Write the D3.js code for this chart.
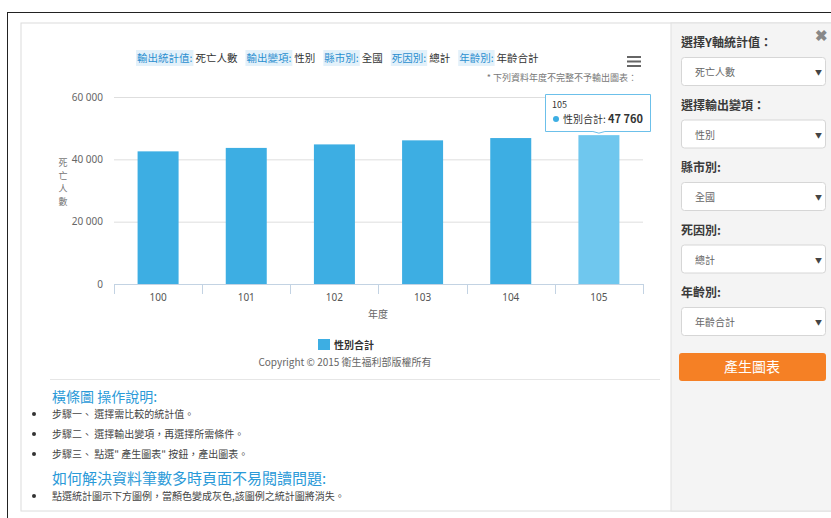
<!DOCTYPE html>
<html>
<head>
<meta charset="utf-8">
<script src="https://d3js.org/d3.v7.min.js"></script>
<style>
  body { margin: 0; background: #fff; }
  svg text { font-family: "Noto Sans CJK TC", "Noto Sans", sans-serif; }
</style>
</head>
<body>
<script>
  // chart data
  const years = ["100", "101", "102", "103", "104", "105"]
  const deaths = [42559, 43665, 44791, 46093, 46829, 47760]
  const yTicks = [0, 20000, 40000, 60000]
  const seriesName = "性別合計"

  // header filters and page text
  const filterKeys = ["輸出統計值:", "輸出變項:", "縣市別:", "死因別:", "年齡別:"]
  const filterVals = ["死亡人數", "性別", "全國", "總計", "年齡合計"]
  const sideLabels = ["選擇Y軸統計值：", "選擇輸出變項：", "縣市別:", "死因別:", "年齡別:"]
  const sideValues = ["死亡人數", "性別", "全國", "總計", "年齡合計"]
  const steps = ["步驟一、 選擇需比較的統計值。", "步驟二、 選擇輸出變項，再選擇所需條件。", "步驟三、 點選\" 產生圖表\" 按鈕，產出圖表。"]

  const W = 831, H = 518
  const svg = d3.select("body").append("svg").attr("width", W).attr("height", H)

  // outer frame + panel
  svg.append("rect").attr("x", 7.5).attr("y", 12.5).attr("width", 840).attr("height", 520)
    .attr("fill", "#fff").attr("stroke", "#222")
  svg.append("rect").attr("x", 21).attr("y", 23).attr("width", 820).attr("height", 488)
    .attr("fill", "#fff").attr("stroke", "#dcdcdc")
  svg.append("rect").attr("x", 671).attr("y", 23).attr("width", 170).attr("height", 488)
    .attr("fill", "#f4f4f4").attr("stroke", "#e0e0e0")

  // header filter line
  let hx = 137
  const hg = svg.append("g")
  filterKeys.forEach((k, i) => {
    const kt = hg.append("text").attr("x", hx).attr("y", 62).attr("font-size", 10.5)
      .attr("fill", "#2b8fd0").text(k)
    const kw = kt.node().getComputedTextLength()
    hg.insert("rect", "text").attr("x", hx - 1).attr("y", 50).attr("width", kw + 2).attr("height", 16)
      .attr("fill", "#e3f1fa")
    const vt = hg.append("text").attr("x", hx + kw + 3).attr("y", 62).attr("font-size", 10.5)
      .attr("fill", "#333").text(filterVals[i])
    hx += kw + 3 + vt.node().getComputedTextLength() + 9
  })
  // hamburger menu
  ;[56, 60.5, 65].forEach(yy => svg.append("rect").attr("x", 627).attr("y", yy).attr("width", 14)
    .attr("height", 2).attr("fill", "#666"))
  svg.append("text").attr("x", 637).attr("y", 81).attr("text-anchor", "end").attr("font-size", 9)
    .attr("fill", "#777").text("* 下列資料年度不完整不予輸出圖表：")

  // scales
  const x = d3.scaleBand().domain(years).range([114, 643]).paddingInner(0.535).paddingOuter(0.2675)
  const y = d3.scaleLinear().domain([0, 60000]).range([284, 97])
  const fmt = d => d3.format(",")(d).replace(/,/g, " ")

  // y grid + labels
  const ya = svg.append("g").attr("transform", "translate(114,0)")
    .call(d3.axisLeft(y).tickValues(yTicks).tickSize(-(643 - 114)).tickPadding(11).tickFormat(fmt))
  ya.select(".domain").remove()
  ya.selectAll("line").attr("stroke", "#dedede")
  ya.selectAll("text").attr("font-size", 10).attr("fill", "#666").style("font-family", "Noto Sans, sans-serif")

  // y title (vertical chars)
  const yt = svg.append("text").attr("font-size", 9).attr("fill", "#777").attr("text-anchor", "middle")
  "死亡人數".split("").forEach((c, i) => yt.append("tspan").attr("x", 63).attr("y", 166 + i * 13).text(c))

  // bars
  svg.selectAll(".bar").data(years).join("rect").attr("class", "bar")
    .attr("x", d => x(d)).attr("width", x.bandwidth())
    .attr("y", (d, i) => y(deaths[i])).attr("height", (d, i) => y(0) - y(deaths[i]))
    .attr("fill", (d, i) => i === years.length - 1 ? "#6fc7ee" : "#3daee3")

  // x axis
  const xa = svg.append("g").attr("transform", "translate(0,284)")
    .call(d3.axisBottom(x).tickSize(0).tickPadding(10))
  xa.select(".domain").attr("stroke", "#c3d3e3").attr("d", "M114,0.5H643")
  xa.selectAll("text").attr("font-size", 10).attr("fill", "#555").style("font-family", "Noto Sans, sans-serif")
  const bounds = years.map(d => x(d) - (x.step() - x.bandwidth()) / 2).concat([643])
  svg.append("g").selectAll("line").data(bounds).join("line")
    .attr("x1", d => Math.round(d) + 0.5).attr("x2", d => Math.round(d) + 0.5)
    .attr("y1", 284).attr("y2", 294).attr("stroke", "#c3d3e3")
  svg.append("text").attr("x", 378).attr("y", 318).attr("text-anchor", "middle").attr("font-size", 10)
    .attr("fill", "#666").text("年度")

  // legend
  svg.append("rect").attr("x", 318).attr("y", 339).attr("width", 12).attr("height", 11).attr("fill", "#3daee3")
  svg.append("text").attr("x", 334).attr("y", 349).attr("font-size", 10).attr("font-weight", "bold")
    .attr("fill", "#333").text(seriesName)
  svg.append("text").attr("x", 345).attr("y", 366).attr("text-anchor", "middle").attr("font-size", 10)
    .attr("fill", "#666").text("Copyright © 2015 衛生福利部版權所有")

  // tooltip on last bar
  const last = years.length - 1
  const tx = x(years[last]) + x.bandwidth() / 2
  const ty = y(deaths[last])
  const tip = svg.append("g")
  tip.append("path")
    .attr("d", `M545.5,94.5H650.5V131.5H${tx + 6}L${tx},${ty - 2}L${tx - 6},131.5H545.5Z`)
    .attr("fill", "rgba(255,255,255,0.95)").attr("stroke", "#6cc0ea")
  tip.append("text").attr("x", 552).attr("y", 108).attr("font-size", 9).attr("fill", "#333").text(years[last])
  tip.append("circle").attr("cx", 556).attr("cy", 119).attr("r", 3).attr("fill", "#3daee3")
  const tt = tip.append("text").attr("x", 563).attr("y", 123).attr("font-size", 10).attr("fill", "#333")
  tt.append("tspan").text(seriesName + ": ")
  tt.append("tspan").attr("font-weight", "bold").attr("font-size", 11).text(fmt(deaths[last]))

  // separator + instructions
  svg.append("line").attr("x1", 50).attr("x2", 660).attr("y1", 379.5).attr("y2", 379.5).attr("stroke", "#e6e6e6")
  svg.append("text").attr("x", 52).attr("y", 402).attr("font-size", 14).attr("fill", "#2b9ad8").text("橫條圖 操作說明:")
  steps.forEach((s, i) => {
    const yy = 418 + i * 20
    svg.append("circle").attr("cx", 34).attr("cy", yy - 4).attr("r", 2).attr("fill", "#333")
    svg.append("text").attr("x", 52).attr("y", yy).attr("font-size", 10).attr("fill", "#444").text(s)
  })
  svg.append("text").attr("x", 52).attr("y", 484).attr("font-size", 15).attr("fill", "#2b9ad8")
    .text("如何解決資料筆數多時頁面不易閱讀問題:")
  svg.append("circle").attr("cx", 34).attr("cy", 496).attr("r", 2).attr("fill", "#333")
  svg.append("text").attr("x", 52).attr("y", 500).attr("font-size", 10).attr("fill", "#444")
    .text("點選統計圖示下方圖例，當顏色變成灰色,該圖例之統計圖將消失。")

  // sidebar
  svg.append("text").attr("x", 815).attr("y", 41).attr("font-size", 15).attr("font-weight", "bold")
    .attr("fill", "#888").text("✖")
  sideLabels.forEach((l, i) => {
    const top = 29 + i * 62.5
    svg.append("text").attr("x", 681).attr("y", top + 18).attr("font-size", 12).attr("font-weight", "bold")
      .attr("fill", "#3a3a3a").text(l)
    svg.append("rect").attr("x", 681.5).attr("y", top + 28.5).attr("width", 144).attr("height", 28)
      .attr("rx", 3).attr("fill", "#fff").attr("stroke", "#d6d6d6")
    svg.append("text").attr("x", 695).attr("y", top + 47).attr("font-size", 10).attr("fill", "#666").text(sideValues[i])
    svg.append("text").attr("x", 815).attr("y", top + 46).attr("font-size", 7).attr("fill", "#444").text("▼")
  })
  svg.append("rect").attr("x", 679).attr("y", 353).attr("width", 147).attr("height", 28).attr("rx", 3)
    .attr("fill", "#f58025")
  svg.append("text").attr("x", 752).attr("y", 372).attr("text-anchor", "middle").attr("font-size", 14)
    .attr("fill", "#fff").text("產生圖表")
</script>
</body>
</html>
